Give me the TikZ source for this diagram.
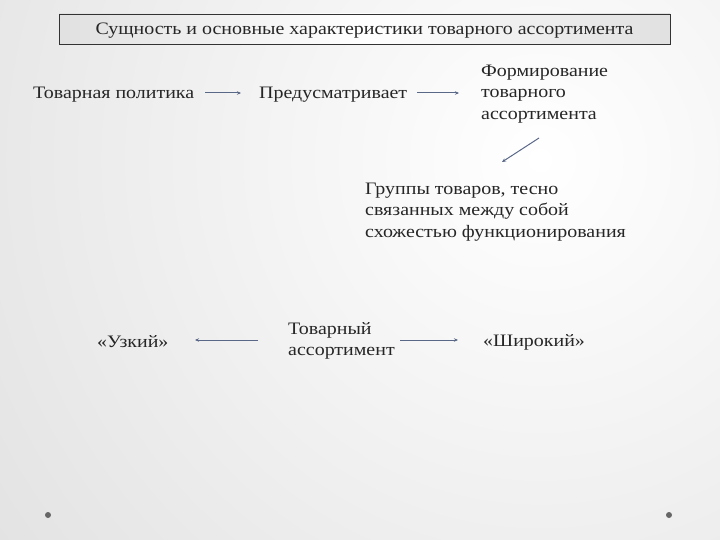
\documentclass[tikz,border=0pt]{standalone}
\usepackage{fontspec}
\setmainfont{Liberation Serif}[FakeStretch=1.14]
\usetikzlibrary{arrows.meta}
\definecolor{arr}{HTML}{5A6888}
\tikzset{
  txt/.style={font=\fontsize{17.5}{21.5}\selectfont, inner sep=0pt, align=left, text=black!85},
  conn/.style={draw=arr, line width=1pt, -{Stealth[length=4pt,width=3.5pt]}},
  dot/.style={circle, fill=black!60, inner sep=0pt, minimum size=6pt}
}
\begin{document}
\begin{tikzpicture}[x=1pt,y=-1pt]
\useasboundingbox (0,0) rectangle (720,540);
\begin{scope}
  \clip (0,0) rectangle (720,540);
  \shade[inner color=white, outer color=black!19] (540,160) circle (1150);
\end{scope}
% title
\shade[left color=black!12, right color=black!12, middle color=white, draw=black!80, line width=0.8pt] (59,14) rectangle (670,44);
\node[txt, anchor=center] (title) at (364.5,30.5) {Сущность и основные характеристики товарного ассортимента};
% row 1
\node[txt, anchor=west] (tp) at (33,95) {Товарная политика};
\node[txt, anchor=west] (pr) at (259,95) {Предусматривает};
\node[txt, anchor=west] (fa) at (481,94) {Формирование\\товарного\\ассортимента};
\node[txt, anchor=west] (gr) at (365,212) {Группы товаров, тесно\\связанных между собой\\схожестью функционирования};
% row 3
\node[txt, anchor=west] (uz) at (97,342) {«Узкий»};
\node[txt, anchor=west] (ta) at (288,341) {Товарный\\ассортимент};
\node[txt, anchor=west] (sh) at (483,342) {«Широкий»};
% connectors
\coordinate (a1s) at (205,93); \coordinate (a1e) at (241,93);
\draw[conn] (a1s) -- (a1e);
\coordinate (a2s) at (417,93); \coordinate (a2e) at (459,93);
\draw[conn] (a2s) -- (a2e);
\coordinate (a3s) at (539,138); \coordinate (a3e) at (502,162);
\draw[conn] (a3s) -- (a3e);
\coordinate (a4s) at (258,340); \coordinate (a4e) at (195,340);
\draw[conn] (a4s) -- (a4e);
\coordinate (a5s) at (400,340); \coordinate (a5e) at (458,340);
\draw[conn] (a5s) -- (a5e);
% dots
\node[dot] (d1) at (48,515) {};
\node[dot] (d2) at (669,515) {};
\end{tikzpicture}
\end{document}
